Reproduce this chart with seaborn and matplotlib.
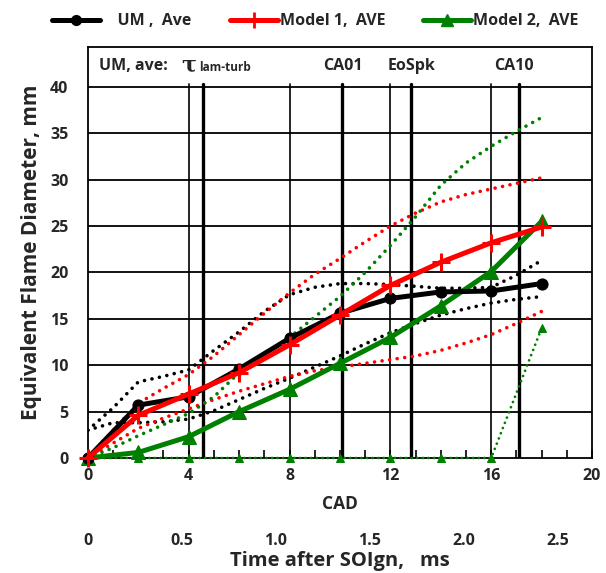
import matplotlib
matplotlib.use("Agg")
import matplotlib.pyplot as plt
import seaborn as sns
import numpy as np
from matplotlib.lines import Line2D

# ---------------- data ----------------
cad = [0, 2, 4, 6, 8, 10, 12, 14, 16, 18]
um_ave = [0.0, 5.7, 6.6, 9.6, 12.9, 15.6, 17.2, 17.9, 18.0, 18.8]
m1_ave = [0.0, 4.6, 6.9, 9.2, 12.2, 15.4, 18.6, 21.1, 23.2, 24.9]
m2_ave = [0.0, 0.6, 2.3, 5.0, 7.4, 10.2, 13.0, 16.4, 20.1, 25.5]
m2_lower = [0.0, 0.0, 0.0, 0.0, 0.0, 0.0, 0.0, 0.0, 0.0, 14.0]

cad_fine = list(range(0, 19))
um_upper = [3.0, 5.4, 8.2, 8.8, 9.5, 11.6, 13.6, 15.8, 17.6, 18.4, 18.8, 18.8, 18.7, 18.5, 18.3, 18.3, 18.4, 19.7, 21.3]
um_lower = [3.0, 3.8, 3.8, 3.9, 4.2, 5.1, 6.3, 7.5, 8.6, 9.8, 11.0, 12.3, 13.5, 14.5, 15.4, 16.1, 16.7, 17.1, 17.4]
m1_upper = [0.0, 3.0, 5.9, 7.5, 9.0, 11.0, 13.3, 15.6, 17.8, 19.8, 21.5, 23.3, 25.0, 26.4, 27.6, 28.4, 29.0, 29.6, 30.2]
m1_lower = [0.0, 1.6, 3.2, 4.3, 5.3, 6.3, 7.2, 8.0, 8.8, 9.4, 9.8, 10.2, 10.6, 11.0, 11.6, 12.4, 13.3, 14.5, 15.8]
m2_upper = [0.0, 1.1, 2.4, 3.6, 4.8, 6.6, 9.2, 11.2, 13.0, 15.2, 17.4, 20.0, 22.9, 26.0, 29.4, 31.8, 33.6, 35.2, 36.7]

event_cad = [4.56, 10.1, 12.8, 17.1]
event_labels = ["CA01", "EoSpk", "CA10"]
event_label_x = [10.1, 12.85, 16.9]

legend_labels = ["UM ,  Ave", "Model 1,  AVE", "Model 2,  AVE"]
x_ticks = [0, 4, 8, 12, 16, 20]
y_ticks = [0, 5, 10, 15, 20, 25, 30, 35, 40]
ms_ticks = [0, 0.5, 1.0, 1.5, 2.0, 2.5]
ms_labels = ["0", "0.5", "1.0", "1.5", "2.0", "2.5"]
cad_per_ms = 7.45

# ---------------- style ----------------
sns.set_theme(style="white")
plt.rcParams["font.family"] = ["Open Sans", "DejaVu Sans"]
plt.rcParams["font.weight"] = "bold"

BLACK = "#000000"
RED = "#FF0000"
GREEN = "#008000"

fig = plt.figure(figsize=(6.06, 5.73), dpi=100)
ax = fig.add_axes([0.145, 0.2007, 0.832, 0.7173])

ax.set_xlim(0, 20)
ax.set_ylim(0, 44.3)

# grid (only up to 40)
for yv in y_ticks[1:]:
    ax.axhline(yv, color="black", lw=1.3, zorder=1)
for xv in [4, 8, 12, 16]:
    ax.plot([xv, xv], [0, 40.3], color="black", lw=1.2, zorder=1)
for xv in event_cad:
    ax.plot([xv, xv], [0, 40.3], color="black", lw=2.4, zorder=1)

dot = (0, (0.01, 2.1))

def dotted(x, y, color):
    sns.lineplot(x=x, y=y, ax=ax, color=color, lw=2.6, zorder=3)
    ln = ax.lines[-1]
    ln.set_linestyle(dot)
    ln.set_dash_capstyle("round")

dotted(cad_fine, um_upper, BLACK)
dotted(cad_fine, um_lower, BLACK)
dotted(cad_fine, m1_upper, RED)
dotted(cad_fine, m1_lower, RED)
dotted(cad_fine, m2_upper, GREEN)

sns.lineplot(x=cad, y=m2_lower, ax=ax, color=GREEN, lw=2.0, marker="^",
             markersize=6, markeredgecolor=GREEN, zorder=3, clip_on=False)
ax.lines[-1].set_linestyle((0, (0.01, 2.0)))
ax.lines[-1].set_dash_capstyle("round")

sns.lineplot(x=cad, y=m2_ave, ax=ax, color=GREEN, lw=3.6, marker="^",
             markersize=10, markeredgecolor=GREEN, zorder=4, clip_on=False)
sns.lineplot(x=cad, y=um_ave, ax=ax, color=BLACK, lw=3.6, marker="o",
             markersize=8, markeredgecolor=BLACK, zorder=5, clip_on=False)
sns.lineplot(x=cad, y=m1_ave, ax=ax, color=RED, lw=3.6, marker="+",
             markersize=13, markeredgewidth=2.2, markeredgecolor=RED, zorder=6, clip_on=False)

# spines
for s in ax.spines.values():
    s.set_color("black")
    s.set_linewidth(1.3)

ax.set_xticks(x_ticks)
ax.set_xticks(range(0, 21), minor=True)
ax.set_yticks(y_ticks)
ax.tick_params(axis="x", which="both", direction="in", bottom=True, top=False,
               length=6, width=1.2, color="black", pad=7, labelsize=11.5)
ax.tick_params(axis="y", which="both", left=False, pad=8, labelsize=11.5)
for lab in ax.get_xticklabels() + ax.get_yticklabels():
    lab.set_fontweight("bold")

ax.set_xlabel("CAD", fontsize=12.5, fontweight="bold", labelpad=8)
ax.set_ylabel("Equivalent Flame Diameter, mm", fontsize=15, fontweight="bold", labelpad=6)

# secondary time axis
sec = ax.secondary_xaxis(-0.175, functions=(lambda c: np.asarray(c) / cad_per_ms,
                                             lambda t: np.asarray(t) * cad_per_ms))
sec.set_xticks(ms_ticks)
sec.set_xticklabels(ms_labels)
sec.spines["bottom"].set_visible(False)
sec.tick_params(axis="x", length=0, pad=2, labelsize=11.5)
for lab in sec.get_xticklabels():
    lab.set_fontweight("bold")
sec.set_xlabel("Time after SOIgn,   ms", fontsize=14.5, fontweight="bold", labelpad=2)

# annotations in the band above 40
ty = 42.2
ax.text(0.45, ty, "UM, ave:", fontsize=11.5, fontweight="bold", va="center", ha="left")
ax.text(3.7, ty + 0.05, "τ", fontsize=16, family="DejaVu Serif", va="center", ha="left")
ax.text(4.4, ty - 0.15, "lam-turb", fontsize=8.5, fontweight="bold", va="center", ha="left")
for xl, lab in zip(event_label_x, event_labels):
    ax.text(xl, ty, lab, fontsize=11.5, fontweight="bold", va="center", ha="center")

# legend
handles = [
    Line2D([], [], color=BLACK, lw=3.6, marker="o", markersize=7),
    Line2D([], [], color=RED, lw=3.6, marker="+", markersize=11, markeredgewidth=2),
    Line2D([], [], color=GREEN, lw=3.6, marker="^", markersize=8),
]
leg = fig.legend(handles, ["    " + legend_labels[0], legend_labels[1], legend_labels[2]],
                 loc="center", bbox_to_anchor=(0.52, 0.963), ncol=3, frameon=False,
                 handlelength=3.0, handletextpad=0.1, columnspacing=2.4,
                 prop={"size": 11.5, "weight": "bold"})

fig.savefig("out.png", dpi=100)
